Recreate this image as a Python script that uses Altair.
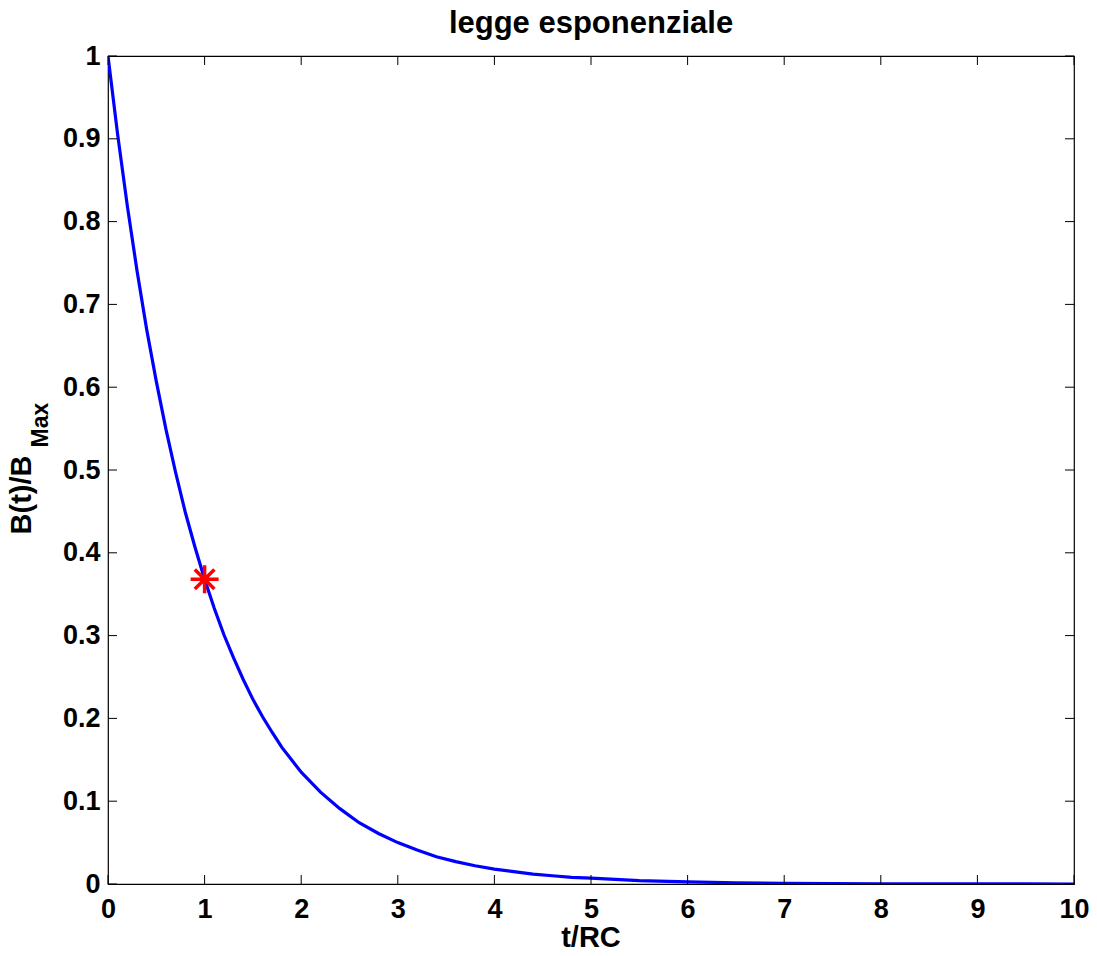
import altair as alt
import pandas as pd

# curve values
t_vals = [0.0, 0.1, 0.2, 0.3, 0.4, 0.5, 0.6, 0.7, 0.8, 0.9, 1.0,
          1.1, 1.2, 1.3, 1.4, 1.5, 1.6, 1.7, 1.8, 1.9, 2.0,
          2.2, 2.4, 2.6, 2.8, 3.0, 3.2, 3.4, 3.6, 3.8, 4.0,
          4.2, 4.4, 4.6, 4.8, 5.0, 5.5, 6.0, 6.5, 7.0, 7.5,
          8.0, 8.5, 9.0, 9.5, 10.0]
b_vals = [1.000, 0.905, 0.819, 0.741, 0.670, 0.607, 0.549, 0.497, 0.449, 0.407, 0.368,
          0.333, 0.301, 0.273, 0.247, 0.223, 0.202, 0.183, 0.165, 0.150, 0.135,
          0.111, 0.091, 0.074, 0.061, 0.050, 0.041, 0.033, 0.027, 0.022, 0.018,
          0.015, 0.012, 0.010, 0.008, 0.007, 0.004, 0.0025, 0.0015, 0.0009, 0.0006,
          0.0003, 0.0002, 0.0001, 0.0001, 0.0]

marker_t = [1.0]
marker_b = [0.368]

x_ticks = [0, 1, 2, 3, 4, 5, 6, 7, 8, 9, 10]
y_ticks = [0, 0.1, 0.2, 0.3, 0.4, 0.5, 0.6, 0.7, 0.8, 0.9, 1.0]

W, H = 966, 828
FONT = "Liberation Sans"

curve = pd.DataFrame({"t": t_vals, "b": b_vals})
marker = pd.DataFrame({"t": marker_t, "b": marker_b})
xt = pd.DataFrame({"t": x_ticks})
yt = pd.DataFrame({"b": y_ticks})
one = pd.DataFrame({"k": [0]})

xscale = alt.Scale(domain=[0, 10], nice=False, zero=False)
yscale = alt.Scale(domain=[0, 1], nice=False, zero=False)

x_axis = alt.Axis(
    values=x_ticks, title="", grid=False, domain=False, ticks=False, tickSize=0,
    labelFont=FONT, labelFontSize=27, labelFontWeight="bold", labelColor="#000",
    labelPadding=12, labelFlush=False, labelOverlap=False, format="~f")
y_axis = alt.Axis(
    values=y_ticks, title="", grid=False, domain=False, ticks=False, tickSize=0,
    labelFont=FONT, labelFontSize=27, labelFontWeight="bold", labelColor="#000",
    labelPadding=8, labelFlush=False, labelOverlap=False, format="~f")

X = alt.X("t:Q", scale=xscale, axis=x_axis)
Y = alt.Y("b:Q", scale=yscale, axis=y_axis)

line = alt.Chart(curve).mark_line(color="#0000ff", strokeWidth=3.2, clip=True).encode(x=X, y=Y)

star_path = "M-1,0L1,0M0,-1L0,1M-0.7,-0.7L0.7,0.7M-0.7,0.7L0.7,-0.7"
star = alt.Chart(marker).mark_point(
    shape=star_path, size=784, filled=False, stroke="#ff0000", strokeWidth=3.5, opacity=1
).encode(x=X, y=Y)

tick_style = dict(color="#000", strokeWidth=1)
bottom_ticks = alt.Chart(xt).mark_rule(**tick_style).encode(
    x=X, y=alt.value(H), y2=alt.value(H - 9))
top_ticks = alt.Chart(xt).mark_rule(**tick_style).encode(
    x=X, y=alt.value(0), y2=alt.value(9))
left_ticks = alt.Chart(yt).mark_rule(**tick_style).encode(
    y=Y, x=alt.value(0), x2=alt.value(9))
right_ticks = alt.Chart(yt).mark_rule(**tick_style).encode(
    y=Y, x=alt.value(W), x2=alt.value(W - 9))

title = alt.Chart(one).mark_text(
    text="legge esponenziale", font=FONT, fontSize=31, fontWeight="bold",
    align="center", baseline="alphabetic", color="#000"
).encode(x=alt.value(W / 2), y=alt.value(-23))

xtitle = alt.Chart(one).mark_text(
    text="t/RC", font=FONT, fontSize=29, fontWeight="bold",
    align="center", baseline="alphabetic", color="#000"
).encode(x=alt.value(W / 2), y=alt.value(891))

ytitle = alt.Chart(one).mark_text(
    text="B(t)/B", font=FONT, fontSize=29, fontWeight="bold", angle=270,
    align="center", baseline="middle", color="#000"
).encode(x=alt.value(-86), y=alt.value(439))

ysub = alt.Chart(one).mark_text(
    text="Max", font=FONT, fontSize=23, fontWeight="bold", angle=270,
    align="center", baseline="middle", color="#000"
).encode(x=alt.value(-67), y=alt.value(369))

chart = alt.layer(
    line, star, bottom_ticks, top_ticks, left_ticks, right_ticks,
    title, xtitle, ytitle, ysub
).properties(
    width=W, height=H,
    autosize=alt.AutoSizeParams(type="none"),
    padding={"left": 100, "top": 48, "right": 15, "bottom": 64},
    background="white",
).configure_view(stroke="#000", strokeWidth=1.2)

chart.save("out.html", embed_options={"renderer": "svg", "actions": False})
